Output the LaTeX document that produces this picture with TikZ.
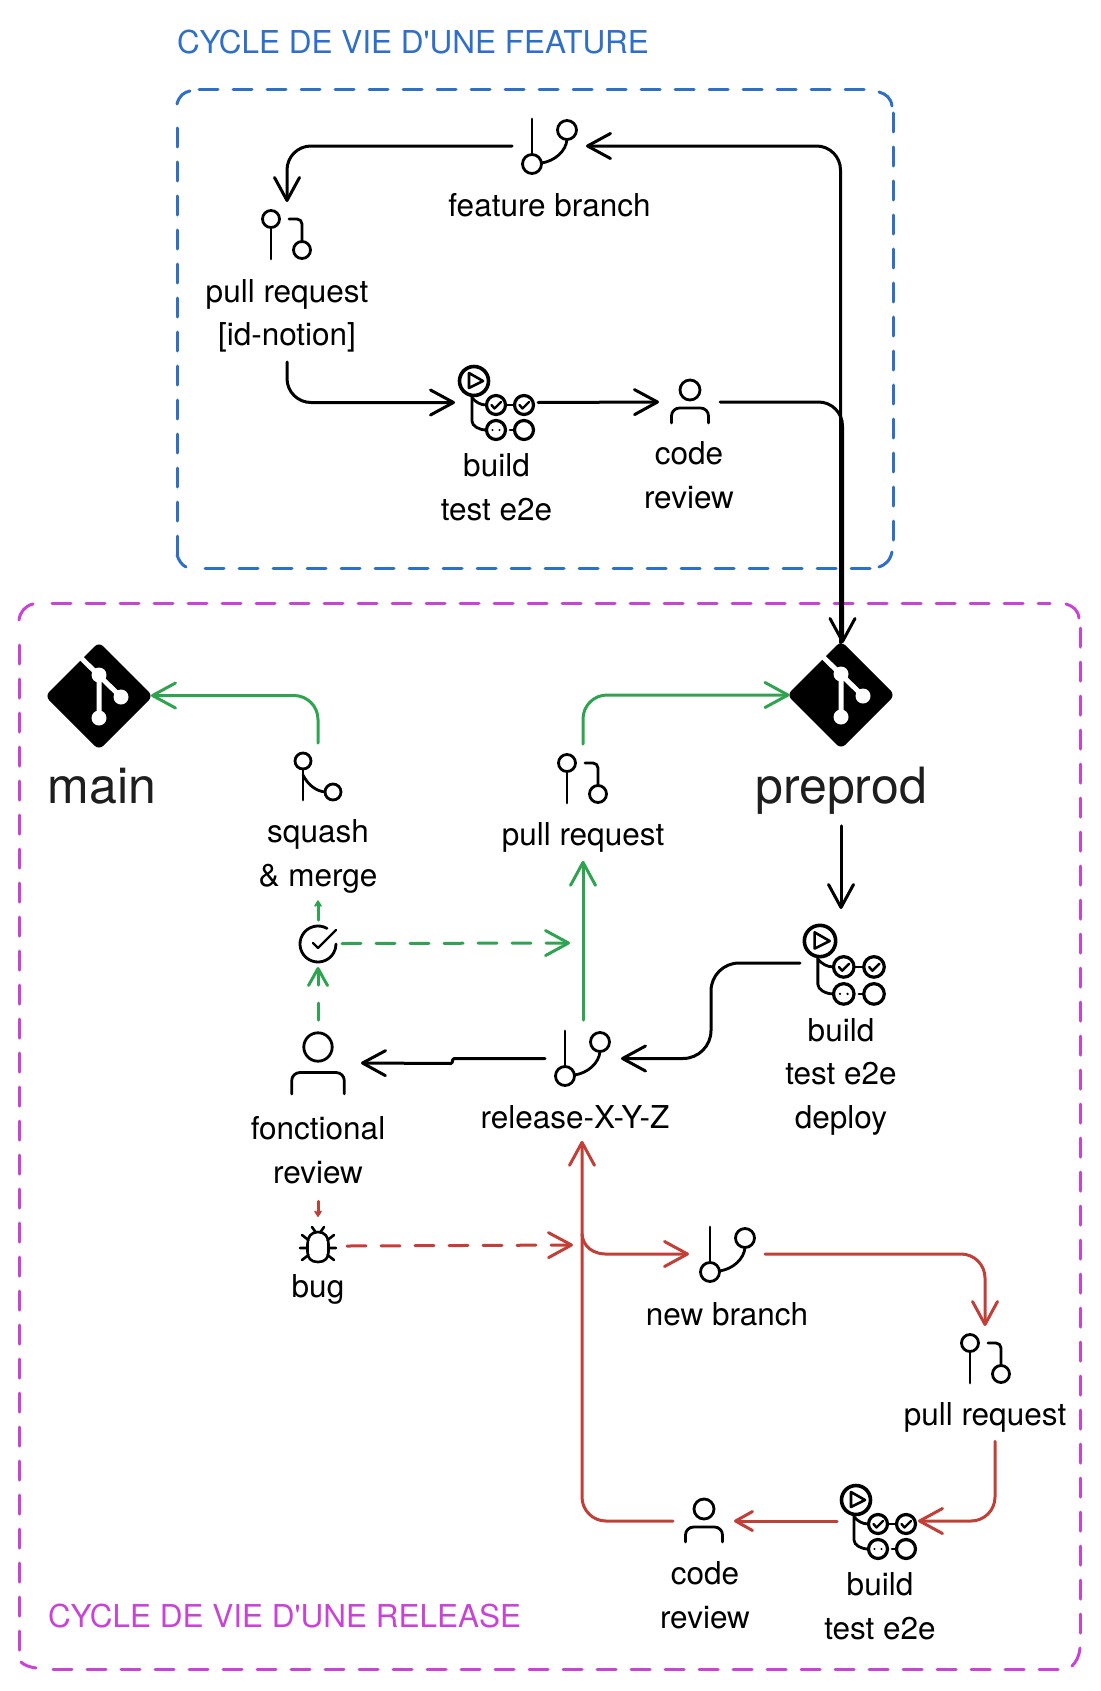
\documentclass[tikz,border=0pt]{standalone}
\usepackage{fontspec}
\newfontfamily\heros{TeX Gyre Heros}
\usetikzlibrary{arrows.meta}
\definecolor{featureblue}{HTML}{2F6FC8}
\definecolor{releasepink}{HTML}{C944D6}
\definecolor{okgreen}{HTML}{2EA450}
\definecolor{bugred}{HTML}{C23F38}
\definecolor{inkgrey}{HTML}{1E1E1E}
\tikzset{
  x=0.5pt,y=-0.5pt,
  bigbarb/.tip={Straight Barb[length=11.5pt,width=12.5pt,round]},
  midbarb/.tip={Straight Barb[length=8.5pt,width=9.5pt,round]},
  tinybarb/.tip={Stealth[length=4pt,width=5pt,round]},
  conn/.style={line width=1.5pt,line cap=round,line join=round,rounded corners=12pt,-{bigbarb}},
  plainconn/.style={line width=1.5pt,line cap=round,line join=round,rounded corners=12pt},
  dashconn/.style={conn,dash pattern=on 9.5pt off 7.5pt},
  hub/.style={inner sep=0pt,outer sep=0pt,draw=none,minimum width=#1*0.5pt,minimum height=#1*0.5pt},
  hubwh/.style 2 args={inner sep=0pt,outer sep=0pt,draw=none,minimum width=#1*0.5pt,minimum height=#2*0.5pt},
  lab/.style={align=center,inner sep=0pt,outer sep=0pt,anchor=base,font=\heros\fontsize{15.75}{21.75}\selectfont},
  biglab/.style={inner sep=0pt,outer sep=0pt,anchor=base,text=inkgrey,font=\heros\fontsize{25}{28}\selectfont},
  titlelab/.style={inner sep=0pt,outer sep=0pt,anchor=base west,font=\heros\fontsize{15.75}{20}\selectfont},
  framesides/.style={line width=1.5pt,line cap=round,dash pattern=on 9.5pt off 7.5pt},
  framearc/.style={line width=1.5pt,line cap=round},
  icon/.style={line width=1.4pt,line cap=round,line join=round},
  pics/branchicon/.style={code={
    \draw[icon] (0,0) circle[radius=9.5] (35,-34) circle[radius=9.5];
    \draw[icon] (0,-45) -- (0,-9.5);
    \draw[icon] (35,-24.5) .. controls (34,-13) and (23,-3) .. (9.5,-1);
  }},
  pics/pricon/.style={code={
    \draw[icon] (0,0) circle[radius=8.5] (31,31) circle[radius=8.5];
    \draw[icon] (0,8.5) -- (0,40);
    \draw[icon,rounded corners=2.5pt] (31,22.5) -- (31,0) -- (18,0);
  }},
  pics/mergeicon/.style={code={
    \draw[icon] (0,0) circle[radius=8] (30,31) circle[radius=8];
    \draw[icon] (0,8) -- (0,39);
    \draw[icon] (0,14) .. controls (5,24) and (13,30) .. (22,31);
  }},
  pics/workflowicon/.style={code={
    \draw[line width=1.8pt] (0,0) circle[radius=14.5];
    \draw[icon,line width=1.3pt] (-5,-8) -- (-5,7) -- (9,0) -- cycle;
    \draw[icon,line width=1.6pt] (22,24) circle[radius=9.5] (50,24) circle[radius=9.5] (22,49) circle[radius=9.5] (50,49) circle[radius=9.5];
    \draw[icon] (31.5,24) -- (40.5,24) (36,49) -- (40.5,49);
    \draw[icon] (-2,14.5) -- (-2,40) .. controls (-2,45) and (5,49) .. (12.5,49);
    \draw[icon] (-2,17) .. controls (2,21) and (6,24) .. (12.5,24);
    \draw[icon,line width=1.2pt] (17.5,24) -- (20.5,27.5) -- (27,21) (45.5,24) -- (48.5,27.5) -- (55,21);
    \fill (18.5,49) circle[radius=1.2] (25.5,49) circle[radius=1.2];
  }},
  pics/personicon/.style={code={
    \draw[icon] (0,0) circle[radius=10];
    \draw[icon,rounded corners=4pt] (-18.5,33) -- (-18.5,18) -- (18.5,18) -- (18.5,33);
  }},
  pics/gitlogo/.style={code={
    \fill[black,rounded corners=3pt] (0,-54) -- (54,0) -- (0,54) -- (-54,0) -- cycle;
    \draw[white,line width=2.5pt] (0,-21) -- (0,22) (-20,-40) -- (22,1);
    \fill[white] (0,-21) circle[radius=7.5] (22,1) circle[radius=7.5] (0,22) circle[radius=7.5];
  }},
  pics/checkicon/.style={code={
    \draw[icon] (9,-15.6) arc[start angle=-60,end angle=-360,radius=18];
    \draw[icon,line width=1.1pt] (-5,-1) -- (0,4) -- (18,-14);
  }},
  pics/bugicon/.style={code={
    \draw[icon,line width=1.3pt] (0,-14) .. controls (7,-14) and (10.5,-9) .. (10.5,-2) -- (10.5,6)
      .. controls (10.5,12) and (7,16) .. (0,16) .. controls (-7,16) and (-10.5,12) .. (-10.5,6)
      -- (-10.5,-2) .. controls (-10.5,-9) and (-7,-14) .. (0,-14) -- cycle;
    \draw[icon,line width=1.3pt] (-18,2) -- (-10.5,2) (10.5,2) -- (18,2)
      (-16,-11) -- (-9.5,-6) (16,-11) -- (9.5,-6)
      (-16,14) -- (-9.5,9) (16,14) -- (9.5,9)
      (-6,-19) -- (-2.5,-14) (6,-19) -- (2.5,-14);
  }},
}
\begin{document}
\begin{tikzpicture}
\useasboundingbox (0,0) rectangle (1101,1691);

% frames
\draw[framesides,featureblue] (199,90) -- (868,90) (893,113) -- (893,546) (870,568) -- (199,568) (177,555) -- (177,120);
\draw[framearc,featureblue] (177,104) .. controls (179,96) and (184,92) .. (190,91)
  (879,92) .. controls (886,94) and (891,98) .. (892,106)
  (892,552) .. controls (890,561) and (885,565) .. (879,567)
  (186,567) .. controls (182,565) and (179,561) .. (177,555);
\draw[framesides,releasepink] (52,603) -- (1050,603) (1080,628) -- (1080,1642) (1058,1669) -- (52,1669) (19,1650) -- (19,635);
\draw[framearc,releasepink] (19,620) .. controls (20,612) and (25,606) .. (33,604)
  (1066,604) .. controls (1073,606) and (1078,610) .. (1079,618)
  (1080,1648) .. controls (1079,1657) and (1076,1662) .. (1072,1666)
  (36,1668) .. controls (29,1667) and (24,1665) .. (21,1662);

% titles
\node[titlelab,text=featureblue] (titlefeature) at (177,54) {CYCLE DE VIE D'UNE FEATURE};
\node[titlelab,text=releasepink] (titlerelease) at (48,1627) {CYCLE DE VIE D'UNE RELEASE};

% icon anchor nodes
\node[hubwh={74}{40}] (fb) at (549,146) {};
\node[hubwh={40}{160}] (prf) at (287,282) {};
\node[hubwh={83}{40}] (wfa) at (496.5,402.5) {};
\node[hubwh={61}{40}] (cra) at (689.5,402) {};
\node[hub=104] (mainrepo) at (99,695.5) {};
\node[hub=104] (preprodrepo) at (841.5,695) {};
\node[hubwh={60}{40}] (squashicon) at (318,763) {};
\node[hubwh={60}{40}] (prp) at (583,764) {};
\node[hubwh={82}{108}] (wfb) at (841,963) {};
\node[hubwh={76}{77}] (rel) at (583,1058.5) {};
\node[hub=86] (fr) at (318,1063) {};
\node[hubwh={48}{47}] (chk) at (318,943.5) {};
\node[hub=58] (bug) at (318,1246) {};
\node[hubwh={76}{40}] (nb) at (727,1254) {};
\node[hubwh={40}{56}] (prn) at (985,1354) {};
\node[hubwh={81}{40}] (wfc) at (877.5,1521) {};
\node[hubwh={61}{40}] (crb) at (703.5,1521) {};

% icons
\pic at (532,164) {branchicon};
\pic at (565,1076) {branchicon};
\pic at (710,1272) {branchicon};
\pic at (271,219) {pricon};
\pic at (567,763) {pricon};
\pic at (970,1343) {pricon};
\pic at (303,761) {mergeicon};
\pic at (474,381) {workflowicon};
\pic[scale=1.08] at (820,941) {workflowicon};
\pic at (856,1500) {workflowicon};
\pic at (690,390) {personicon};
\pic at (704,1509) {personicon};
\pic[scale=1.42] at (318,1047) {personicon};
\pic at (99,696) {gitlogo};
\pic at (841,695) {gitlogo};
\pic at (318,944) {checkicon};
\pic at (318,1246) {bugicon};

% labels
\node[lab] (lfb) at (549.5,216) {feature branch};
\node[lab] (lprf) at (287,345.5) {pull request\\{[id-notion]}};
\node[lab] (lwfa) at (496.5,520) {build\\test e2e};
\node[lab] (lcra) at (689,508) {code\\review};
\node[biglab] (lmain) at (102,803) {main};
\node[biglab,outer sep=6pt] (lpreprod) at (841,803) {preprod};
\node[lab,outer sep=3.7pt] (lsquash) at (318,886) {squash\\\& merge};
\node[lab,outer sep=4.5pt] (lprp) at (583,845) {pull request};
\node[lab] (lwfb) at (841,1128) {build\\test e2e\\deploy};
\node[lab,outer sep=6.2pt] (lrel) at (575,1128) {release-X-Y-Z};
\node[lab,outer sep=9pt] (lfr) at (318,1183) {fonctional\\review};
\node[lab] (lbug) at (318,1297) {bug};
\node[lab] (lnb) at (727,1325) {new branch};
\node[lab,outer sep=4.7pt] (lprn) at (985,1425) {pull request};
\node[lab] (lwfc) at (880,1639) {build\\test e2e};
\node[lab] (lcrb) at (705,1628) {code\\review};

\coordinate (greenland) at (570,943);
\coordinate (redland) at (573,1245);
\coordinate (redfork) at (582,1234);

% black connectors
\draw[conn] (fb.west) -| (prf.north);
\draw[conn] (prf.south) |- (wfa.west);
\draw[conn] (wfa.east) -- (cra.west);
\draw[conn] (cra.east) -| ([xshift=0.5pt]preprodrepo.north);
\draw[conn] ([xshift=-0.5pt]preprodrepo.north) |- (fb.east);
\draw[conn] (lpreprod.south) -- (wfb.north);
\draw[conn,rounded corners=14pt] (wfb.west) -- ++(-89,0) |- (rel.east);
\draw[conn,rounded corners=0.6pt] (rel.west) -- ++(-92,0) -- ++(-1,5) -- (fr.east);

% green connectors
\begin{scope}[okgreen]
\draw[conn] (squashicon.north) |- (mainrepo.east);
\draw[conn] (prp.north) |- (preprodrepo.west);
\draw[conn] (rel.north) -- (lprp.south);
\draw[dashconn,dash pattern=on 8.5pt off 9pt,-{midbarb}] (fr.north) -- (chk.south);
\draw[plainconn,-{tinybarb}] (chk.north) -- (lsquash.south);
\draw[dashconn] (chk.east) -- (greenland);
\end{scope}

% red connectors
\begin{scope}[bugred]
\draw[plainconn,-{tinybarb}] (lfr.south) -- (bug.north);
\draw[dashconn] (bug.east) -- (redland);
\draw[conn] (crb.west) -| ([xshift=3.5pt]lrel.south);
\draw[conn,rounded corners=0pt] (redfork) .. controls (583,1246) and (592,1255) .. (610,1254) -- (nb.west);
\draw[conn] (nb.east) -| (prn.north);
\draw[conn] ([xshift=5pt]lprn.south) |- (wfc.east);
\draw[conn,-{midbarb}] (wfc.west) -- (crb.east);
\end{scope}
\end{tikzpicture}
\end{document}
